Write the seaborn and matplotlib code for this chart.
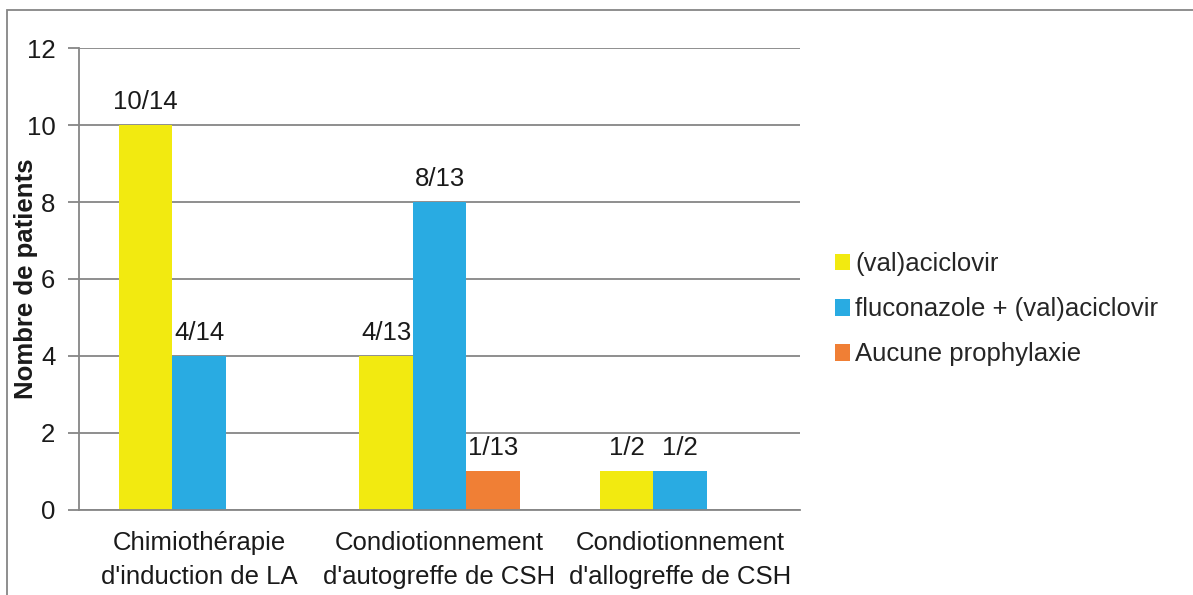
import pandas as pd
import numpy as np
import seaborn as sns
import matplotlib.pyplot as plt
from matplotlib.patches import Rectangle, Patch

categories = ["Chimiothérapie\nd'induction de LA",
              "Condiotionnement\nd'autogreffe de CSH",
              "Condiotionnement\nd'allogreffe de CSH"]
series = ["(val)aciclovir", "fluconazole + (val)aciclovir", "Aucune prophylaxie"]
aciclovir = [10, 4, 1]
fluco_aciclovir = [4, 8, 1]
aucune = [0, 1, 0]
labels_aciclovir = ["10/14", "4/13", "1/2"]
labels_fluco = ["4/14", "8/13", "1/2"]
labels_aucune = ["", "1/13", ""]

colors = ["#F2EA10", "#29ABE2", "#F07F35"]
fs = 18.5

rows = []
for vals, labs, name in [(aciclovir, labels_aciclovir, series[0]),
                         (fluco_aciclovir, labels_fluco, series[1]),
                         (aucune, labels_aucune, series[2])]:
    for cat, v, lab in zip(categories, vals, labs):
        rows.append({"cat": cat, "serie": name, "n": v, "label": lab})
df = pd.DataFrame(rows)

sns.set_style("white")
plt.rcParams['font.family'] = ['Liberation Sans', 'DejaVu Sans']

fig = plt.figure(figsize=(11.93, 5.95), dpi=100)
ax = fig.add_axes([0.0662, 0.1429, 0.6044, 0.7764])

sns.barplot(data=df, x="cat", y="n", hue="serie", order=categories,
            hue_order=series, palette=colors, width=0.667, saturation=1,
            edgecolor="none", linewidth=0, legend=False, ax=ax)

# value labels
for container, name in zip(ax.containers, series):
    sub = df[df["serie"] == name].set_index("cat").loc[categories]
    ax.bar_label(container, labels=list(sub["label"]), padding=8, fontsize=fs,
                 color="#1a1a1a")

ax.set_ylim(0, 12)
ax.set_xlim(-0.5, 2.5)
ax.set_yticks(np.arange(0, 13, 2))
ax.yaxis.grid(True, color="#868686", linewidth=1.3)
ax.set_axisbelow(True)
for side in ["top", "right"]:
    ax.spines[side].set_visible(False)
for side in ["left", "bottom"]:
    ax.spines[side].set_color("#868686")
    ax.spines[side].set_linewidth(1.3)

ax.set_xticks([0, 1, 2])
ax.set_xticklabels(categories, fontsize=fs, color="#1a1a1a", linespacing=1.55)
ax.tick_params(axis="x", length=0, pad=15)
ax.set_xticks([-0.5, 0.5, 1.5, 2.5], minor=True)
ax.tick_params(axis="x", which="minor", length=8, color="#868686", width=1.3, direction="out")
ax.tick_params(axis="y", labelsize=fs, length=8, color="#868686", width=1.3,
               direction="out", pad=9, left=True, labelcolor="#1a1a1a")
ax.set_xlabel("")
ax.set_ylabel("Nombre de patients", fontsize=fs, fontweight="bold", color="#1a1a1a")
ax.yaxis.set_label_coords(-0.057, 0.5)

handles = [Patch(facecolor=c, edgecolor="none") for c in colors]
fig.legend(handles, series, loc="center left", bbox_to_anchor=(0.691, 0.48),
           frameon=False, fontsize=fs, handlelength=0.6, handleheight=0.6,
           handletextpad=0.2, labelspacing=0.82, borderaxespad=0)

fig.patches.append(Rectangle((7 / 1193, -0.1), 1.2, 1.1 - 10 / 595,
                             transform=fig.transFigure, fill=False,
                             edgecolor="#868686", linewidth=1.3))

fig.savefig("out.png", dpi=100)
